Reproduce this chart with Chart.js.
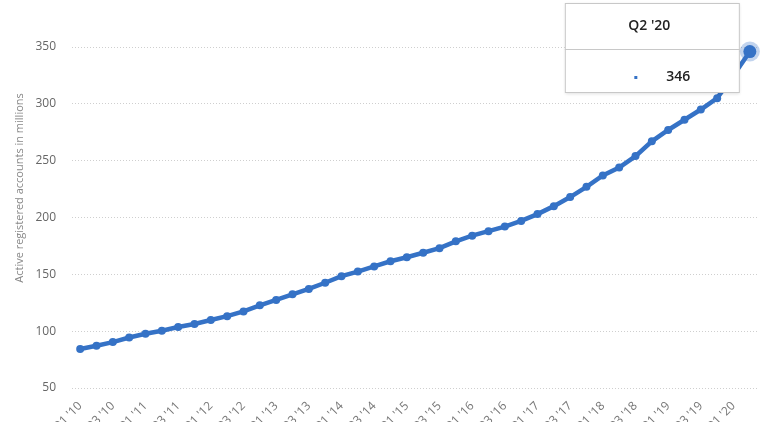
<!DOCTYPE html>
<html><head><meta charset="utf-8">
<script src="https://cdn.jsdelivr.net/npm/chart.js@4/dist/chart.umd.min.js"></script>
<style>
html,body{margin:0;padding:0;background:#fff;overflow:hidden;width:768px;height:422px;}
#wrap{position:absolute;left:0;top:0;width:768px;height:470px;}
</style></head><body>
<div id="wrap"><canvas id="c"></canvas></div>
<script>
const quarters = ["Q1 '10","Q2 '10","Q3 '10","Q4 '10","Q1 '11","Q2 '11","Q3 '11","Q4 '11","Q1 '12","Q2 '12","Q3 '12","Q4 '12","Q1 '13","Q2 '13","Q3 '13","Q4 '13","Q1 '14","Q2 '14","Q3 '14","Q4 '14","Q1 '15","Q2 '15","Q3 '15","Q4 '15","Q1 '16","Q2 '16","Q3 '16","Q4 '16","Q1 '17","Q2 '17","Q3 '17","Q4 '17","Q1 '18","Q2 '18","Q3 '18","Q4 '18","Q1 '19","Q2 '19","Q3 '19","Q4 '19","Q1 '20","Q2 '20"];
const accounts = [84.3,87.2,90.4,94.4,97.7,100.4,103.7,106.3,109.8,113.2,117.4,122.7,127.5,132.4,137.2,142.6,148.4,152.4,157,161.5,165,169,173,179,184,188,192,197,203,210,218,227,237,244,254,267,277,286,295,305,325,346];
const yTicks = [50,100,150,200,250,300,350];
const yTitle = "Active registered accounts in millions";

const blue = "#3572c6";
const lastIdx = accounts.length - 1;
const FONT = "'Open Sans', sans-serif";

const tooltipPlugin = {
  id: 'fixedTip',
  afterDraw(chart) {
    const ctx = chart.ctx;
    const pt = chart.getDatasetMeta(0).data[lastIdx];
    const right = pt.x - 10, left = pt.x - 185, top = 3, bottom = 93;
    ctx.save();
    ctx.shadowColor = "rgba(0,0,0,0.12)"; ctx.shadowBlur = 3; ctx.shadowOffsetY = 1;
    ctx.fillStyle = "#fff";
    ctx.fillRect(left, top, right-left, bottom-top);
    ctx.shadowColor = "transparent";
    ctx.strokeStyle = "#c8c8c8"; ctx.lineWidth = 1;
    ctx.strokeRect(left+0.5, top+0.5, right-left-1, bottom-top-1);
    ctx.beginPath(); ctx.moveTo(left, 49.5); ctx.lineTo(right, 49.5); ctx.stroke();
    ctx.fillStyle = "#222"; ctx.textBaseline = "middle";
    ctx.font = "600 14px " + FONT;
    const cx = (left+right)/2;
    ctx.textAlign = "center";
    ctx.fillText(quarters[lastIdx], cx - 3, 26);
    ctx.textAlign = "left";
    ctx.fillText(String(accounts[lastIdx]), cx + 14, 77);
    ctx.fillStyle = blue;
    ctx.fillRect(cx - 18, 76, 3, 3);
    // halo + big last point (drawn above the box)
    ctx.beginPath(); ctx.arc(pt.x, pt.y, 10, 0, Math.PI*2);
    ctx.fillStyle = "rgba(53,114,198,0.3)"; ctx.fill();
    ctx.beginPath(); ctx.arc(pt.x, pt.y, 6.5, 0, Math.PI*2);
    ctx.fillStyle = blue; ctx.fill();
    // y-axis title
    ctx.translate(20, 188);
    ctx.rotate(-Math.PI/2);
    ctx.textAlign = "center"; ctx.fillStyle = "#888";
    ctx.font = "11px " + FONT;
    ctx.fillText(yTitle, 0, 0);
    ctx.restore();
  }
};

new Chart(document.getElementById('c'), {
  type: 'line',
  data: { labels: quarters, datasets: [{
    data: accounts, borderColor: blue, backgroundColor: blue, borderWidth: 4.5,
    pointRadius: accounts.map((v,i)=> i===lastIdx ? 0 : 4), pointBackgroundColor: blue, pointBorderWidth: 0,
    tension: 0, clip: false
  }]},
  options: {
    responsive: true, maintainAspectRatio: false, animation: false,
    layout: { padding: { top: 47, right: 10, left: 8, bottom: 0 } },
    plugins: { legend: { display: false }, tooltip: { enabled: false } },
    scales: {
      x: {
        offset: true,
        grid: { display: false }, border: { display: false },
        ticks: { autoSkip: false, maxRotation: 45, minRotation: 45, color: '#777',
          font: { family: FONT, size: 12 },
          callback: function(v, i){ return i % 2 === 0 ? quarters[i] : ''; } },
        afterFit(s){ s.height = 82; }
      },
      y: {
        min: 50, max: 350,
        afterBuildTicks(s){ s.ticks = yTicks.map(v=>({value:v})); },
        grid: { color: '#cfcfcf', lineWidth: 1, tickLength: 0 },
        border: { display: false, dash: [1,2] },
        ticks: { color: '#666', padding: 16, font: { family: FONT, size: 12 } },
        afterFit(s){ s.width = 64; }
      }
    }
  },
  plugins: [tooltipPlugin]
});
</script></body></html>
